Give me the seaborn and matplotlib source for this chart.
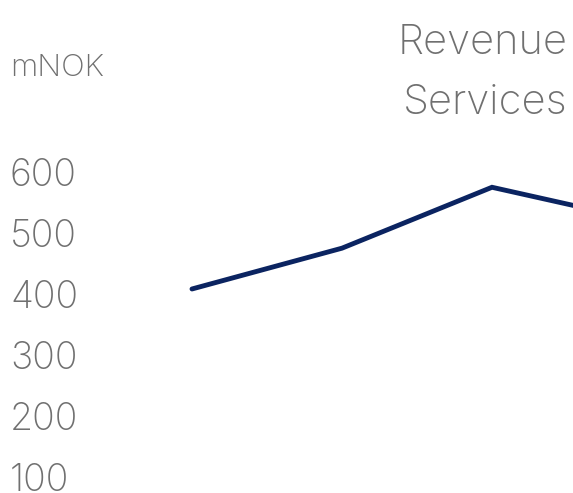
import numpy as np
import pandas as pd
import seaborn as sns
from matplotlib import pyplot as plt

# data (last point lies past the right edge)
periods = ["P1", "P2", "P3", "P4"]
revenue = [408, 475, 575, 520]
y_ticks = [100, 200, 300, 400, 500, 600]

sns.set_style("white")
plt.rcParams['font.family'] = ['Inter', 'DejaVu Sans']
grey = "#707070"
navy = "#0b2461"

df = pd.DataFrame({"period": np.arange(len(periods)), "revenue": revenue})

fig = plt.figure(figsize=(5.73, 4.93), dpi=100)
ax = fig.add_axes([90 / 573, 0, 1 - 90 / 573, 1])
sns.lineplot(data=df, x="period", y="revenue", ax=ax, color=navy, linewidth=3.5,
             solid_capstyle="round", solid_joinstyle="miter")

ax.set_xlim(-0.68, 2.54)
ax.set_ylim(73, 882.5)
ax.set_yticks(y_ticks)
ax.set_yticklabels([str(t) for t in y_ticks], fontsize=27, color=grey,
                   fontweight="light", ha="left")
# labels start at the left edge of the figure
ax.tick_params(axis="y", length=0, pad=80 * 0.72)
ax.set_xticks([])
ax.set_xlabel("")
ax.set_ylabel("")
for s in ax.spines.values():
    s.set_visible(False)

fig.text(10 / 573, 1 - 76 / 493, "mNOK", fontsize=22.5, color=grey, fontweight="light",
         ha="left", va="baseline")
fig.text(568 / 573, 1 - 54 / 493, "Revenue", fontsize=30, color=grey,
         fontweight="light", ha="right", va="baseline")
fig.text(568 / 573, 1 - 114 / 493, "Services", fontsize=30, color=grey,
         fontweight="light", ha="right", va="baseline")

fig.savefig("out.png", dpi=100)
